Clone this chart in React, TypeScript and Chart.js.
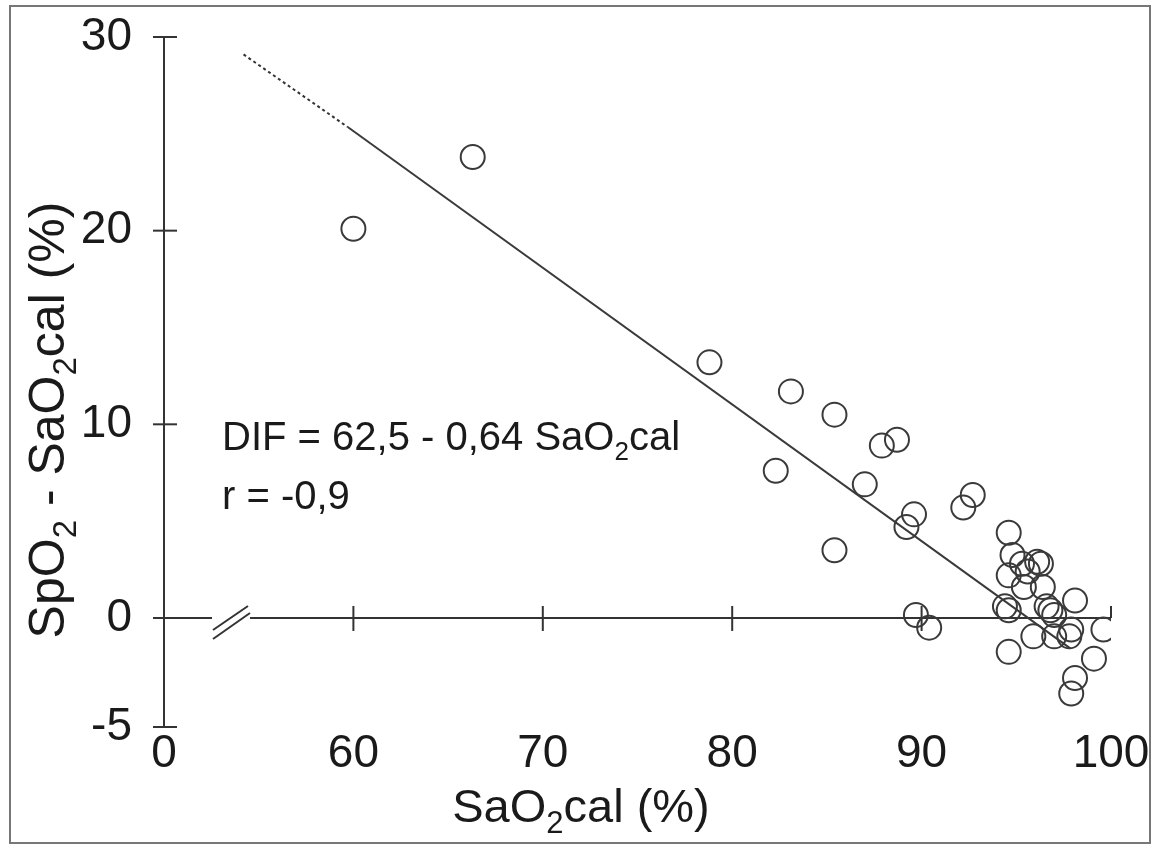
import React, { useEffect, useRef } from 'react';
import { Chart, registerables } from 'chart.js';

Chart.register(...registerables);

// Measured points: SaO2cal (%) vs SpO2 - SaO2cal (%)
const sao2cal = [
  60.0, 66.3, 78.8, 83.1, 85.4, 87.9, 88.7, 82.3, 87.0, 89.6,
  89.2, 85.4, 92.7, 92.2, 94.6, 94.8, 94.6, 95.3, 95.6, 96.1,
  96.3, 95.4, 96.4, 94.4, 94.6, 89.7, 90.4, 98.1, 96.6, 97.0,
  96.8, 95.9, 97.0, 97.8, 97.9, 99.6, 94.6, 99.1, 98.1, 97.9,
];
const difValues = [
  20.1, 23.8, 13.2, 11.7, 10.5, 8.9, 9.2, 7.6, 6.9, 5.35,
  4.7, 3.5, 6.35, 5.7, 4.4, 3.25, 2.2, 2.8, 2.4, 2.9,
  2.8, 1.6, 1.6, 0.6, 0.4, 0.15, -0.5, 0.9, 0.6, 0.15,
  0.4, -0.95, -0.95, -0.95, -0.6, -0.6, -1.75, -2.1, -3.1, -3.9,
];

// Regression line: dotted extrapolation then solid part
const lineX = [54.2, 59.7, 97.85];
const lineY = [29.1, 25.35, -1.57];

const xTickValues = [50, 60, 70, 80, 90, 100];
const xTickLabels = ['0', '60', '70', '80', '90', '100'];
const yMin = -5.63;
const yTickValues = [yMin, 0, 10, 20, 30];
const yTickLabels = ['-5', '0', '10', '20', '30'];

const FONT = '"Liberation Sans", Arial, Helvetica, sans-serif';
const INK = '#1a1a1a';
const AXIS = '#333333';

type Part = [string, boolean];

function drawRich(ctx: CanvasRenderingContext2D, parts: Part[], x: number, y: number, size: number, align: 'left' | 'center') {
  const widths = parts.map(([t, s]) => {
    ctx.font = `${s ? Math.round(size * 0.66) : size}px ${FONT}`;
    return ctx.measureText(t).width;
  });
  const total = widths.reduce((a, b) => a + b, 0);
  let cx = align === 'center' ? x - total / 2 : x;
  ctx.textAlign = 'left';
  ctx.textBaseline = 'alphabetic';
  parts.forEach(([t, s], i) => {
    ctx.font = `${s ? Math.round(size * 0.66) : size}px ${FONT}`;
    ctx.fillText(t, cx, s ? y + size * 0.24 : y);
    cx += widths[i];
  });
}

const decorPlugin = {
  id: 'decor',
  beforeDatasetsDraw(chart: any) {
    const { ctx, scales } = chart;
    const xs = scales.x;
    const ys = scales.y;
    const x0 = xs.getPixelForValue(50);
    const xEnd = xs.getPixelForValue(100);
    const yTop = ys.getPixelForValue(30);
    const yBot = ys.getPixelForValue(yMin);
    const yZero = ys.getPixelForValue(0);
    const seg = (a: number, b: number, c: number, d: number) => {
      ctx.beginPath();
      ctx.moveTo(a, b);
      ctx.lineTo(c, d);
      ctx.stroke();
    };
    ctx.save();
    ctx.strokeStyle = AXIS;
    ctx.lineWidth = 2;
    // y axis
    seg(x0, yTop, x0, yBot);
    yTickValues.forEach((v) => {
      const p = ys.getPixelForValue(v);
      seg(x0 - 11, p, x0 + 13, p);
    });
    // x axis at y = 0 with a break
    seg(x0 - 11, yZero, x0 + 48, yZero);
    seg(x0 + 86, yZero, xEnd, yZero);
    seg(x0 + 49, yZero + 12, x0 + 84, yZero - 12);
    seg(x0 + 49, yZero + 21, x0 + 86, yZero - 5);
    xTickValues.forEach((v) => {
      if (v === 50) return;
      const p = xs.getPixelForValue(v);
      if (v === 100) seg(p, yZero - 12, p, yZero);
      else seg(p, yZero - 12, p, yZero + 13);
    });
    // outer frame
    ctx.strokeStyle = '#777';
    ctx.lineWidth = 2;
    ctx.strokeRect(10, 6, 1140, 837);
    ctx.restore();
  },
  afterDraw(chart: any) {
    const { ctx } = chart;
    ctx.save();
    ctx.fillStyle = INK;
    // x title
    drawRich(ctx, [['SaO', false], ['2', true], ['cal (%)', false]], 581, 822, 47, 'center');
    // y title
    ctx.save();
    ctx.translate(64, 420);
    ctx.rotate(-Math.PI / 2);
    drawRich(ctx, [['SpO', false], ['2', true], [' - SaO', false], ['2', true], ['cal (%)', false]], 0, 0, 50, 'center');
    ctx.restore();
    // annotations
    drawRich(ctx, [['DIF = 62,5 - 0,64 SaO', false], ['2', true], ['cal', false]], 222, 450, 40, 'left');
    drawRich(ctx, [['r = -0,9', false]], 222, 509, 40, 'left');
    ctx.restore();
  },
};

export default function App() {
  const ref = useRef<HTMLCanvasElement>(null);
  useEffect(() => {
    const canvas = ref.current;
    if (!canvas) return;
    const points = sao2cal.map((x, i) => ({ x, y: difValues[i] }));
    const chart = new Chart(canvas, {
      type: 'scatter',
      data: {
        datasets: [
          {
            data: points,
            showLine: false,
            pointRadius: 12,
            pointBorderWidth: 2,
            borderColor: '#3a3a3a',
            backgroundColor: 'rgba(0,0,0,0)',
            pointBackgroundColor: 'rgba(0,0,0,0)',
            pointBorderColor: '#3a3a3a',
          },
          {
            data: [{ x: lineX[0], y: lineY[0] }, { x: lineX[1], y: lineY[1] }],
            showLine: true,
            pointRadius: 0,
            borderColor: '#333333',
            borderWidth: 2,
            borderDash: [3, 3],
          },
          {
            data: [{ x: lineX[1], y: lineY[1] }, { x: lineX[2], y: lineY[2] }],
            showLine: true,
            pointRadius: 0,
            borderColor: '#3a3a3a',
            borderWidth: 2,
          },
        ],
      },
      options: {
        responsive: false,
        animation: false,
        events: [],
        layout: { padding: { top: 37, right: 46, left: 0, bottom: 0 } },
        plugins: { legend: { display: false }, tooltip: { enabled: false } },
        scales: {
          x: {
            type: 'linear',
            min: 50,
            max: 100,
            grid: { display: false, drawTicks: false },
            border: { display: false },
            afterBuildTicks: (scale: any) => {
              scale.ticks = xTickValues.map((value) => ({ value }));
            },
            afterFit: (scale: any) => {
              scale.height = 121;
              scale.paddingLeft = 0;
              scale.paddingRight = 0;
            },
            ticks: {
              autoSkip: false,
              maxRotation: 0,
              padding: 0,
              color: INK,
              font: { family: FONT, size: 46 },
              callback: (v: any) => {
                const i = xTickValues.indexOf(Number(v));
                return i >= 0 ? xTickLabels[i] : '';
              },
            },
          },
          y: {
            type: 'linear',
            min: yMin,
            max: 30,
            grid: { display: false, drawTicks: false },
            border: { display: false },
            afterBuildTicks: (scale: any) => {
              scale.ticks = yTickValues.map((value) => ({ value }));
            },
            afterFit: (scale: any) => {
              scale.width = 164;
              scale.paddingTop = 0;
              scale.paddingBottom = 0;
            },
            ticks: {
              autoSkip: false,
              padding: 32,
              color: INK,
              font: { family: FONT, size: 46 },
              callback: (v: any) => {
                const i = yTickValues.indexOf(Number(v));
                return i >= 0 ? yTickLabels[i] : '';
              },
            },
          },
        },
      },
      plugins: [decorPlugin],
    } as any);
    return () => chart.destroy();
  }, []);
  return (
    <div style={{ position: 'absolute', left: 0, top: 0, width: 1157, height: 848, background: '#fff' }}>
      <canvas ref={ref} width={1157} height={848} style={{ display: 'block' }} />
    </div>
  );
}
